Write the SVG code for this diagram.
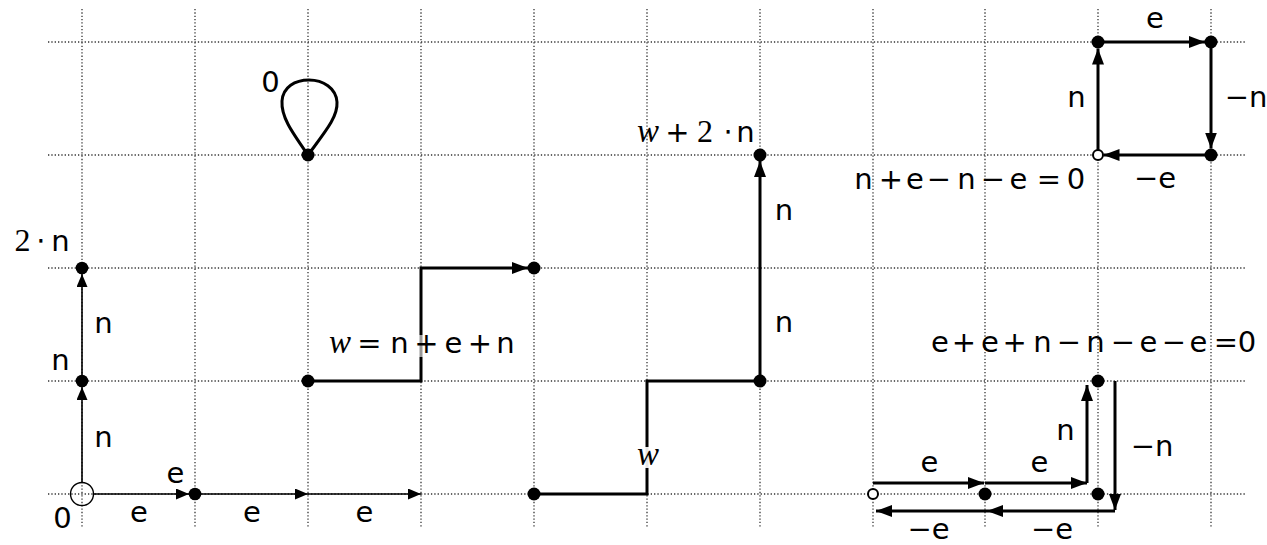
<svg xmlns="http://www.w3.org/2000/svg" width="1267" height="545" viewBox="0 0 1267 545">
<style>
.grid{fill:none;stroke:#333;stroke-width:1.3;stroke-dasharray:1.3 2.03}
.thin{fill:none;stroke:#000;stroke-width:1.6}
.thick{fill:none;stroke:#000;stroke-width:3}
.dot{fill:#000}
.open{fill:#fff;stroke:#000;stroke-width:2}
text{font-family:"DejaVu Sans","Liberation Sans",sans-serif;font-size:29px;fill:#000;text-anchor:middle}
.mi{font-family:"Liberation Serif",serif;font-style:italic;font-size:33px}
.num{font-family:"Liberation Serif",serif;font-size:32px}
.bg{fill:#fff}
</style>
<defs>
<marker id="at" viewBox="0 0 13 11" refX="13" refY="5.5" markerWidth="13" markerHeight="11" markerUnits="userSpaceOnUse" orient="auto"><path d="M0,0L13,5.5L0,11Z" fill="#000"/></marker>
<marker id="ak" viewBox="0 0 16 12" refX="16" refY="6" markerWidth="16" markerHeight="12" markerUnits="userSpaceOnUse" orient="auto"><path d="M0,0L16,6L0,12Z" fill="#000"/></marker>
</defs>
<rect width="1267" height="545" fill="#fff"/>
<g id="grid">
<path class="grid" d="M48,42H1246M48,155H1246M48,268H1246M48,381H1246M48,494H1246"/>
<path class="grid" d="M82,9V528M195,9V528M308,9V528M421,9V528M534,9V528M647,9V528M760,9V528M873,9V528M985,9V528M1098,9V528M1211,9V528"/>
</g>
<g id="connectors">
<path class="thin" d="M82,482.5V387" marker-end="url(#at)"/>
<path class="thin" d="M82,375V274" marker-end="url(#at)"/>
<path class="thin" d="M93.5,494H189" marker-end="url(#at)"/>
<path class="thin" d="M201,494H308" marker-end="url(#at)"/>
<path class="thin" d="M308,494H421" marker-end="url(#at)"/>
<path class="thick" d="M308,155C292,132 281,117 282,101C283,87 295,80 309,80C323,80 336,88 337,102C338,117 325,132 308,155"/>
<path class="thick" d="M308,381H421V268H528" marker-end="url(#ak)"/>
<path class="thick" d="M534,494H647V381H760"/>
<path class="thick" d="M760,381V161" marker-end="url(#ak)"/>
<path class="thick" d="M1098,150V48.5" marker-end="url(#ak)"/>
<path class="thick" d="M1098,42H1205" marker-end="url(#ak)"/>
<path class="thick" d="M1211,42V148.5" marker-end="url(#ak)"/>
<path class="thick" d="M1211,155H1103.5" marker-end="url(#ak)"/>
<path class="thick" d="M873,483H984" marker-end="url(#ak)"/>
<path class="thick" d="M985,483H1087" marker-end="url(#ak)"/>
<path class="thick" d="M1087,483V385" marker-end="url(#ak)"/>
<path class="thick" d="M1115,381V510" marker-end="url(#ak)"/>
<path class="thick" d="M1115,511H987" marker-end="url(#ak)"/>
<path class="thick" d="M987,511H876" marker-end="url(#ak)"/>
</g>
<g id="origin"><circle cx="82" cy="494" r="11.5" fill="none" stroke="#000" stroke-width="1.4"/><text x="62.5" y="528">0</text></g>
<g id="p1n1"><circle class="dot" cx="82" cy="381" r="6.3"/><text x="60.5" y="370">n</text></g>
<g id="p1n2"><circle class="dot" cx="82" cy="268" r="6.3"/><text y="251"><tspan class="num" x="22.5">2</tspan><tspan x="40.8 60.5">⋅n</tspan></text></g>
<g id="p1e1"><circle class="dot" cx="195" cy="494" r="6.3"/><text x="175.5" y="483">e</text></g>
<g id="p1labels">
<text x="103.5" y="447">n</text>
<text x="103.5" y="333">n</text>
<text x="139" y="522">e</text>
<text x="252" y="522">e</text>
<text x="364.5" y="522">e</text>
</g>
<g id="loop"><circle class="dot" cx="308" cy="155" r="6.5"/><text x="270.5" y="91.5">0</text></g>
<g id="wstart"><circle class="dot" cx="308" cy="381" r="6.5"/></g>
<g id="wend"><circle class="dot" cx="534" cy="268" r="6.5"/></g>
<g id="wlabel"><rect class="bg" x="326" y="335" width="190" height="22" opacity="0.6"/><text y="353"><tspan class="mi" x="340">w</tspan><tspan x="369.5 399.5 426.5 453.5 480 505.5">=n+e+n</tspan></text></g>
<g id="p3start"><circle class="dot" cx="534" cy="494" r="6.5"/></g>
<g id="p3mid"><circle class="dot" cx="760" cy="381" r="6.5"/></g>
<g id="p3end"><circle class="dot" cx="760" cy="155" r="6.5"/><text y="142"><tspan class="mi" x="648">w</tspan><tspan x="677.5">+</tspan><tspan class="num" x="705">2</tspan><tspan x="728 745.5">⋅n</tspan></text></g>
<g id="p3labels">
<rect class="bg" x="637" y="447" width="20" height="21" opacity="0.9"/>
<text class="mi" x="648" y="465">w</text>
<text x="784" y="220">n</text>
<text x="784" y="332">n</text>
</g>
<g id="sqstart"><circle class="open" cx="1098" cy="155" r="5"/><text x="863.5 891 915 939 966.5 993 1018.5 1049 1076" y="189">n+e−n−e=0</text></g>
<g id="sq1"><circle class="dot" cx="1098" cy="42" r="6.5"/></g>
<g id="sq2"><circle class="dot" cx="1211" cy="42" r="6.5"/></g>
<g id="sq3"><circle class="dot" cx="1211" cy="155" r="6.5"/></g>
<g id="sqlabels">
<text x="1076.5" y="107">n</text>
<text x="1155" y="28">e</text>
<text x="1246" y="107">−n</text>
<text x="1155" y="188">−e</text>
</g>
<g id="lstart"><circle class="open" cx="873" cy="494" r="5"/><text x="940 964 990 1014.7 1042.5 1069 1095.5 1123 1148.5 1174 1198.5 1226 1247" y="352">e+e+n−n−e−e=0</text></g>
<g id="l1"><circle class="dot" cx="985" cy="494" r="6.5"/></g>
<g id="l2"><circle class="dot" cx="1098" cy="494" r="6.5"/></g>
<g id="l3"><circle class="dot" cx="1098" cy="381" r="6.5"/></g>
<g id="llabels">
<text x="929.5" y="472">e</text>
<text x="1039.5" y="472">e</text>
<text x="1065.5" y="440">n</text>
<text x="1152" y="456">−n</text>
<text x="928.5" y="539">−e</text>
<text x="1052" y="539">−e</text>
</g>
</svg>
